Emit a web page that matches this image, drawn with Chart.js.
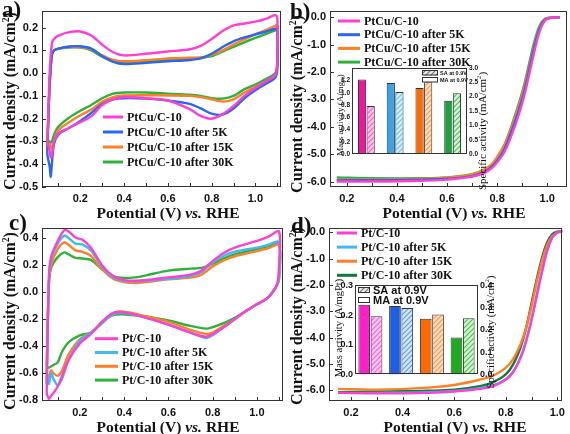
<!DOCTYPE html>
<html>
<head>
<meta charset="utf-8">
<script src="https://cdn.jsdelivr.net/npm/chart.js@4.4.1/dist/chart.umd.min.js"></script>
<style>
  html, body { margin: 0; padding: 0; background: #fff; }
  #fig { position: relative; width: 570px; height: 434px; overflow: hidden; }
  canvas { position: absolute; }
  .t { position: absolute; font-family: "Liberation Serif", serif; font-weight: bold; white-space: nowrap; color: #111;
       transform: translate(-50%, -50%); line-height: 1; }
  .rot { transform: translate(-50%, -50%) rotate(-90deg); }
  .reg { font-weight: normal; }
  sup, sub { font-size: 0.6em; line-height: 0; }
  .let { position: absolute; font-family: "Liberation Serif", serif; font-weight: bold; font-size: 23px; line-height: 1; color: #111; }
</style>
</head>
<body>
<div id="fig">
  <canvas id="chartA" width="285" height="217" style="left:0;top:0"></canvas>
  <canvas id="chartB" width="285" height="217" style="left:285px;top:0"></canvas>
  <canvas id="chartC" width="285" height="217" style="left:0;top:217px"></canvas>
  <canvas id="chartD" width="285" height="217" style="left:285px;top:217px"></canvas>
  <canvas id="insetB" width="162" height="100" style="left:331px;top:60px"></canvas>
  <canvas id="insetD" width="172" height="104" style="left:334px;top:278px"></canvas>

  <div class="let" style="left:2px;top:-2px">a)</div>
  <div class="let" style="left:290px;top:0">b)</div>
  <div class="let" style="left:9px;top:211px">c)</div>
  <div class="let" style="left:291px;top:214px">d)</div>

  <div class="t rot" style="left:10px;top:101px;font-size:16px">Current density (mA/cm<sup>2</sup>)</div>
  <div class="t" style="left:168px;top:213px;font-size:15.5px">Potential (V) <i>vs.</i> RHE</div>
  <div class="t rot" style="left:297px;top:104px;font-size:16px">Current density (mA/cm<sup>2</sup>)</div>
  <div class="t" style="left:454px;top:213px;font-size:15.5px">Potential (V) <i>vs.</i> RHE</div>
  <div class="t rot" style="left:10px;top:321px;font-size:16px">Current density (mA/cm<sup>2</sup>)</div>
  <div class="t" style="left:168px;top:427px;font-size:15.5px">Potential (V) <i>vs.</i> RHE</div>
  <div class="t rot" style="left:297px;top:316px;font-size:16px">Current density (mA/cm<sup>2</sup>)</div>
  <div class="t" style="left:455px;top:427px;font-size:15.5px">Potential (V) <i>vs.</i> RHE</div>

  <div class="t rot reg" style="left:340px;top:115px;font-size:9px">Mass activity (A/mg<sub>Pt</sub>)</div>
  <div class="t rot reg" style="left:482px;top:131px;font-size:11px">Specific activity (mA/cm<sup>2</sup>)</div>
  <div class="t rot reg" style="left:339px;top:328px;font-size:10.5px">Mass activity (A/mgPt)</div>
  <div class="t rot reg" style="left:491px;top:332px;font-size:10.5px">Specific activity (mA/cm<sup>2</sup>)</div>
</div>

<script>
// ---- panel a: PtCu/C-10 CV ----
const A_UP_X = [0.05, 0.06, 0.07, 0.08, 0.1, 0.15, 0.2, 0.25, 0.3, 0.35, 0.4, 0.5, 0.6, 0.7, 0.75, 0.8, 0.85, 0.9, 0.95, 1.0, 1.05, 1.09, 1.1];
const A_DOWN_X = [1.1, 1.09, 1.05, 1.0, 0.95, 0.9, 0.85, 0.8, 0.75, 0.7, 0.6, 0.5, 0.4, 0.35, 0.3, 0.25, 0.2, 0.15, 0.1, 0.08, 0.07, 0.065, 0.06, 0.05];
const A_PTCU_UP = [-0.3, 0.0, 0.13, 0.15, 0.165, 0.18, 0.183, 0.165, 0.125, 0.092, 0.078, 0.085, 0.095, 0.105, 0.12, 0.15, 0.185, 0.21, 0.218, 0.226, 0.24, 0.255, 0.245];
const A_PTCU_DOWN = [0.05, -0.01, -0.035, -0.065, -0.1, -0.145, -0.18, -0.2, -0.188, -0.158, -0.12, -0.11, -0.105, -0.115, -0.14, -0.19, -0.215, -0.24, -0.265, -0.3, -0.36, -0.37, -0.34, -0.31];
const A_5K_UP = [-0.3, -0.05, 0.08, 0.1, 0.108, 0.117, 0.118, 0.108, 0.075, 0.05, 0.04, 0.045, 0.052, 0.058, 0.065, 0.085, 0.115, 0.14, 0.157, 0.17, 0.183, 0.195, 0.195];
const A_5K_DOWN = [0.02, -0.02, -0.045, -0.075, -0.11, -0.155, -0.182, -0.178, -0.155, -0.135, -0.12, -0.112, -0.11, -0.115, -0.135, -0.175, -0.21, -0.24, -0.27, -0.31, -0.4, -0.455, -0.41, -0.36];
const A_15K_UP = [-0.32, -0.05, 0.08, 0.1, 0.108, 0.115, 0.115, 0.105, 0.078, 0.058, 0.052, 0.057, 0.065, 0.068, 0.068, 0.08, 0.1, 0.125, 0.148, 0.17, 0.19, 0.208, 0.21];
const A_15K_DOWN = [0.03, -0.01, -0.035, -0.06, -0.085, -0.115, -0.125, -0.115, -0.105, -0.1, -0.098, -0.097, -0.098, -0.105, -0.125, -0.16, -0.185, -0.215, -0.25, -0.3, -0.33, -0.33, -0.31, -0.33];
const A_30K_UP = [-0.3, -0.05, 0.08, 0.1, 0.108, 0.113, 0.112, 0.1, 0.072, 0.052, 0.048, 0.052, 0.058, 0.065, 0.068, 0.075, 0.095, 0.115, 0.135, 0.155, 0.172, 0.188, 0.19];
const A_30K_DOWN = [0.04, 0.0, -0.025, -0.05, -0.07, -0.1, -0.112, -0.11, -0.1, -0.095, -0.09, -0.085, -0.085, -0.09, -0.11, -0.14, -0.165, -0.195, -0.235, -0.27, -0.3, -0.305, -0.3, -0.31];
const A_Y_TICKS = [0.2, 0.1, 0.0, -0.1, -0.2, -0.3, -0.4, -0.5];

// ---- panel b: PtCu/C-10 ORR ----
const B_X = [0.16, 0.3, 0.5, 0.6, 0.7, 0.75, 0.78, 0.8, 0.83, 0.86, 0.89, 0.91, 0.93, 0.95, 0.97, 0.99, 1.01, 1.05];
const B_PTCU = [-6.0, -6.0, -5.97, -5.93, -5.82, -5.68, -5.5, -5.3, -4.9, -4.25, -3.45, -2.8, -2.0, -1.2, -0.5, -0.12, -0.02, 0.0];
const B_5K = [-5.96, -5.95, -5.93, -5.9, -5.8, -5.65, -5.45, -5.25, -4.8, -4.1, -3.3, -2.65, -1.85, -1.05, -0.42, -0.1, -0.02, 0.0];
const B_15K = [-5.93, -5.92, -5.9, -5.86, -5.74, -5.55, -5.35, -5.1, -4.65, -3.95, -3.15, -2.5, -1.75, -1.0, -0.4, -0.09, -0.02, 0.0];
const B_30K = [-5.85, -5.88, -5.88, -5.85, -5.73, -5.56, -5.38, -5.15, -4.65, -3.9, -3.05, -2.4, -1.6, -0.85, -0.3, -0.06, -0.01, 0.0];
const LSV_Y_TICKS = [0, -1, -2, -3, -4, -5, -6];

// ---- panel c: Pt/C-10 CV ----
const C_UP_X = [0.05, 0.06, 0.07, 0.1, 0.13, 0.15, 0.18, 0.21, 0.25, 0.3, 0.35, 0.4, 0.45, 0.5, 0.6, 0.7, 0.75, 0.8, 0.85, 0.9, 1.0, 1.05, 1.1];
const C_DOWN_X = [1.1, 1.09, 1.05, 1.0, 0.95, 0.9, 0.85, 0.8, 0.77, 0.7, 0.6, 0.5, 0.4, 0.35, 0.3, 0.25, 0.2, 0.15, 0.12, 0.1, 0.08, 0.07, 0.06, 0.05];
const C_PT_UP = [-0.75, 0.1, 0.26, 0.38, 0.46, 0.45, 0.405, 0.39, 0.33, 0.2, 0.12, 0.09, 0.085, 0.09, 0.11, 0.13, 0.16, 0.23, 0.29, 0.33, 0.38, 0.41, 0.45];
const C_PT_DOWN = [0.2, 0.05, -0.04, -0.09, -0.14, -0.2, -0.26, -0.31, -0.33, -0.3, -0.24, -0.19, -0.15, -0.155, -0.22, -0.31, -0.38, -0.5, -0.62, -0.7, -0.75, -0.77, -0.79, -0.75];
const C_5K_UP = [-0.68, 0.08, 0.24, 0.36, 0.42, 0.4, 0.36, 0.355, 0.31, 0.19, 0.11, 0.085, 0.08, 0.085, 0.1, 0.12, 0.15, 0.22, 0.27, 0.3, 0.33, 0.35, 0.37];
const C_5K_DOWN = [0.1, 0.05, -0.04, -0.09, -0.14, -0.2, -0.26, -0.32, -0.34, -0.3, -0.24, -0.19, -0.155, -0.165, -0.23, -0.3, -0.36, -0.5, -0.64, -0.69, -0.64, -0.6, -0.68, -0.62];
const C_15K_UP = [-0.6, 0.06, 0.2, 0.32, 0.37, 0.35, 0.31, 0.3, 0.27, 0.17, 0.1, 0.075, 0.068, 0.075, 0.095, 0.108, 0.13, 0.19, 0.235, 0.265, 0.305, 0.325, 0.35];
const C_15K_DOWN = [0.1, 0.05, -0.04, -0.09, -0.14, -0.2, -0.25, -0.3, -0.31, -0.28, -0.22, -0.18, -0.145, -0.155, -0.23, -0.3, -0.35, -0.46, -0.58, -0.62, -0.6, -0.58, -0.63, -0.6];
const C_30K_UP = [-0.55, 0.05, 0.18, 0.26, 0.295, 0.28, 0.255, 0.25, 0.24, 0.17, 0.12, 0.105, 0.11, 0.125, 0.16, 0.175, 0.18, 0.21, 0.25, 0.28, 0.32, 0.34, 0.36];
const C_30K_DOWN = [0.1, 0.05, -0.04, -0.09, -0.14, -0.19, -0.23, -0.26, -0.27, -0.25, -0.21, -0.18, -0.165, -0.17, -0.22, -0.3, -0.32, -0.37, -0.44, -0.52, -0.54, -0.55, -0.56, -0.55];
const C_Y_TICKS = [0.4, 0.2, 0.0, -0.2, -0.4, -0.6, -0.8];

// ---- panel d: Pt/C-10 ORR ----
const D_X = [0.15, 0.3, 0.5, 0.6, 0.7, 0.75, 0.8, 0.83, 0.86, 0.88, 0.9, 0.92, 0.94, 0.96, 0.98, 1.0, 1.02];
const D_PT = [-6.1, -6.12, -6.1, -6.05, -5.95, -5.85, -5.6, -5.3, -4.7, -4.1, -3.3, -2.4, -1.5, -0.7, -0.2, 0.0, 0.05];
const D_5K = [-6.1, -6.1, -6.08, -6.03, -5.92, -5.82, -5.58, -5.28, -4.7, -4.1, -3.35, -2.45, -1.55, -0.75, -0.22, -0.01, 0.04];
const D_15K = [-5.95, -5.98, -5.9, -5.8, -5.6, -5.45, -5.15, -4.8, -4.2, -3.6, -2.8, -1.9, -1.1, -0.5, -0.15, -0.02, 0.02];
const D_30K = [-6.08, -6.05, -6.02, -5.98, -5.85, -5.7, -5.4, -5.0, -4.3, -3.6, -2.7, -1.8, -1.0, -0.4, -0.08, 0.02, 0.05];

// shared potential ticks (labelled / unlabelled)
const X_MAJOR = [0.2, 0.4, 0.6, 0.8, 1.0];
const X_MINOR = [0.1, 0.3, 0.5, 0.7, 0.9, 1.1];

// ---- insets: mass / specific activity at 0.9 V ----
const INSET_CATS = ['fresh', 'after 5K', 'after 15K', 'after 30K'];
const B_MA = [1.22, 1.16, 1.08, 0.87];
const B_SA = [1.68, 2.16, 2.51, 2.12];
const B_MA_TICKS = [0, 0.2, 0.4, 0.6, 0.8, 1.0, 1.2];
const B_SA_TICKS = [0, 0.5, 1.0, 1.5, 2.0, 2.5, 3.0];
const D_MA = [0.235, 0.231, 0.188, 0.125];
const D_SA = [0.262, 0.299, 0.269, 0.253];
const D_MA_TICKS = [0, 0.1, 0.2, 0.3];
const D_SA_TICKS = [0, 0.1, 0.2, 0.3, 0.4];

const MAGENTA = '#ff3fd2', BLUE = '#2a66f0', ORANGE = '#ff7f27', GREEN = '#2fb23c';
const LBLUE = '#40b8f0', DGREEN = '#0f7a3a';

function loop(upX, upY, downX, downY) {
  const pts = upX.map((x, i) => ({x: x, y: upY[i]}))
    .concat(downX.map((x, i) => ({x: x, y: downY[i]})));
  pts.push(pts[0]);
  return pts;
}
function curve(xs, ys) {
  return xs.map((x, i) => ({x: x, y: ys[i]}));
}
function hatch(bg, fg) {
  const c = document.createElement('canvas');
  c.width = 5; c.height = 5;
  const g = c.getContext('2d');
  g.fillStyle = bg; g.fillRect(0, 0, 5, 5);
  g.strokeStyle = fg; g.lineWidth = 1.2;
  g.beginPath(); g.moveTo(-1, 6); g.lineTo(6, -1); g.moveTo(-1, 1); g.lineTo(1, -1); g.moveTo(4, 6); g.lineTo(6, 4); g.stroke();
  return g.createPattern(c, 'repeat');
}

// frame round the plot area plus inward tick marks
const frame = {
  id: 'frame',
  afterDatasetsDraw(chart, args, o) {
    const ctx = chart.ctx, a = chart.chartArea;
    ctx.save();
    ctx.strokeStyle = '#333';
    ctx.lineWidth = 1;
    ctx.strokeRect(Math.round(a.left) + 0.5, Math.round(a.top) + 0.5, Math.round(a.right - a.left) - 1, Math.round(a.bottom - a.top) - 1);
    if (o.ticks) {
      ctx.beginPath();
      chart.scales.x.ticks.forEach(t => {
        const p = Math.round(chart.scales.x.getPixelForValue(t.value)) + 0.5;
        ctx.moveTo(p, a.bottom); ctx.lineTo(p, a.bottom - o.ticks);
      });
      chart.scales.y.ticks.forEach(t => {
        const p = Math.round(chart.scales.y.getPixelForValue(t.value)) + 0.5;
        ctx.moveTo(a.left, p); ctx.lineTo(a.left + o.ticks, p);
      });
      ctx.stroke();
    }
    ctx.restore();
  }
};

// line legend drawn inside the plot
const lineLegend = {
  id: 'lineLegend',
  afterDraw(chart, args, o) {
    if (!o || o.x === undefined) return;
    const ctx = chart.ctx;
    ctx.save();
    ctx.font = 'bold 12px "Liberation Serif"';
    ctx.textBaseline = 'middle';
    chart.data.datasets.forEach((d, i) => {
      const y = o.y + i * o.dy;
      ctx.strokeStyle = d.borderColor;
      ctx.lineWidth = 3;
      ctx.beginPath(); ctx.moveTo(o.x, y); ctx.lineTo(o.x + o.len, y); ctx.stroke();
      ctx.fillStyle = '#111';
      ctx.fillText(d.label, o.x + o.len + 4, y + 0.5);
    });
    ctx.restore();
  }
};

// box legend for the bar insets
const boxLegend = {
  id: 'boxLegend',
  afterDraw(chart, args, o) {
    if (!o || !o.rows) return;
    const ctx = chart.ctx;
    ctx.save();
    ctx.font = o.font;
    ctx.textBaseline = 'middle';
    o.rows.forEach(r => {
      const d = chart.data.datasets[r.ds];
      ctx.fillStyle = d.legendFill;
      ctx.fillRect(o.x, r.y, o.w, o.h);
      ctx.strokeStyle = '#333'; ctx.lineWidth = 1;
      ctx.strokeRect(o.x + 0.5, r.y + 0.5, o.w - 1, o.h - 1);
      ctx.fillStyle = '#111';
      ctx.fillText(d.label, o.tx, r.y + o.h / 2 + 0.5);
    });
    ctx.restore();
  }
};

// white plot background for the insets
const plotBg = {
  id: 'plotBg',
  beforeDatasetsDraw(chart, args, o) {
    if (!o || !o.color) return;
    const a = chart.chartArea;
    chart.ctx.save();
    chart.ctx.fillStyle = o.color;
    chart.ctx.fillRect(a.left, a.top, a.right - a.left, a.bottom - a.top);
    chart.ctx.restore();
  }
};

Chart.register(frame, lineLegend, boxLegend, plotBg);

const TICK_FONT = {family: 'Liberation Sans', weight: 'bold', size: 11};

function lineDs(label, color, data, tension) {
  return {label: label, data: data, borderColor: color, backgroundColor: color, borderWidth: 2.4,
          pointRadius: 0, showLine: true, tension: tension, fill: false};
}

function mainOptions(c) {
  return {
    responsive: false,
    animation: false,
    events: [],
    layout: {padding: {top: c.top, right: c.right, left: 0, bottom: 0}},
    plugins: {legend: {display: false}, tooltip: {enabled: false}, frame: {ticks: 4}, lineLegend: c.legend},
    scales: {
      x: {
        type: 'linear', min: c.xmin, max: c.xmax,
        afterFit: s => { s.height = c.xh; },
        afterBuildTicks: s => { s.ticks = X_MAJOR.concat(X_MINOR).filter(v => v > c.xmin && v < c.xmax).sort((p, q) => p - q).map(v => ({value: v})); },
        grid: {display: false, drawTicks: false},
        border: {display: false},
        ticks: {padding: 5, font: TICK_FONT, color: '#111', autoSkip: false, maxRotation: 0,
                callback: v => X_MAJOR.includes(v) ? v.toFixed(1) : ''}
      },
      y: {
        type: 'linear', min: c.ymin, max: c.ymax,
        afterFit: s => { s.width = c.yw; },
        afterBuildTicks: s => { s.ticks = c.yticks.map(v => ({value: v})); },
        grid: {display: false, drawTicks: false},
        border: {display: false},
        ticks: {padding: 4, font: TICK_FONT, color: '#111', autoSkip: false, callback: v => v.toFixed(1)}
      }
    }
  };
}

new Chart(document.getElementById('chartA'), {
  type: 'scatter',
  data: {datasets: [
    lineDs('PtCu/C-10', MAGENTA, loop(A_UP_X, A_PTCU_UP, A_DOWN_X, A_PTCU_DOWN), 0.3),
    lineDs('PtCu/C-10 after 5K', BLUE, loop(A_UP_X, A_5K_UP, A_DOWN_X, A_5K_DOWN), 0.3),
    lineDs('PtCu/C-10 after 15K', ORANGE, loop(A_UP_X, A_15K_UP, A_DOWN_X, A_15K_DOWN), 0.3),
    lineDs('PtCu/C-10 after 30K', GREEN, loop(A_UP_X, A_30K_UP, A_DOWN_X, A_30K_DOWN), 0.3)
  ]},
  options: mainOptions({top: 11, right: 4, xh: 30, yw: 42, xmin: 0.025, xmax: 1.117, ymin: -0.5, ymax: 0.273,
                        yticks: A_Y_TICKS, legend: {x: 103, y: 117, dy: 15, len: 20}})
});

new Chart(document.getElementById('chartB'), {
  type: 'scatter',
  data: {datasets: [
    lineDs('PtCu/C-10', MAGENTA, curve(B_X, B_PTCU), 0.4),
    lineDs('PtCu/C-10 after 5K', BLUE, curve(B_X, B_5K), 0.4),
    lineDs('PtCu/C-10 after 15K', ORANGE, curve(B_X, B_15K), 0.4),
    lineDs('PtCu/C-10 after 30K', GREEN, curve(B_X, B_30K), 0.4)
  ]},
  options: mainOptions({top: 11, right: 3, xh: 30, yw: 45, xmin: 0.133, xmax: 1.079, ymin: -6.2, ymax: 0.234,
                        yticks: LSV_Y_TICKS, legend: {x: 53, y: 21, dy: 13.7, len: 22}})
});

new Chart(document.getElementById('chartC'), {
  type: 'scatter',
  data: {datasets: [
    lineDs('Pt/C-10', MAGENTA, loop(C_UP_X, C_PT_UP, C_DOWN_X, C_PT_DOWN), 0.3),
    lineDs('Pt/C-10 after 5K', LBLUE, loop(C_UP_X, C_5K_UP, C_DOWN_X, C_5K_DOWN), 0.3),
    lineDs('Pt/C-10 after 15K', ORANGE, loop(C_UP_X, C_15K_UP, C_DOWN_X, C_15K_DOWN), 0.3),
    lineDs('Pt/C-10 after 30K', GREEN, loop(C_UP_X, C_30K_UP, C_DOWN_X, C_30K_DOWN), 0.3)
  ]},
  options: mainOptions({top: 10, right: 2, xh: 33, yw: 42, xmin: 0.029, xmax: 1.118, ymin: -0.807, ymax: 0.479,
                        yticks: C_Y_TICKS, legend: {x: 95, y: 121.7, dy: 13.8, len: 23}})
});

new Chart(document.getElementById('chartD'), {
  type: 'scatter',
  data: {datasets: [
    lineDs('Pt/C-10', MAGENTA, curve(D_X, D_PT), 0.4),
    lineDs('Pt/C-10 after 5K', LBLUE, curve(D_X, D_5K), 0.4),
    lineDs('Pt/C-10 after 15K', ORANGE, curve(D_X, D_15K), 0.4),
    lineDs('Pt/C-10 after 30K', DGREEN, curve(D_X, D_30K), 0.4)
  ]},
  options: mainOptions({top: 9, right: 2, xh: 33, yw: 44, xmin: 0.115, xmax: 1.02, ymin: -6.41, ymax: 0.177,
                        yticks: LSV_Y_TICKS, legend: {x: 52, y: 16, dy: 14.1, len: 20}})
});

function insetOptions(c) {
  const f = {family: 'Liberation Sans', weight: 'bold', size: c.fs};
  return {
    responsive: false,
    animation: false,
    events: [],
    layout: {padding: {top: c.top, right: 0, left: 0, bottom: c.bottom}},
    plugins: {legend: {display: false}, tooltip: {enabled: false}, frame: {}, plotBg: {color: '#fff'}, boxLegend: c.legend},
    scales: {
      x: {display: false},
      y: {
        position: 'left', min: 0, max: c.ymax,
        afterFit: s => { s.width = c.yw; },
        afterBuildTicks: s => { s.ticks = c.yticks.map(v => ({value: v})); },
        grid: {display: false, drawTicks: false}, border: {display: false},
        ticks: {padding: 2, font: f, color: '#111', autoSkip: false, callback: v => v.toFixed(1)}
      },
      y2: {
        position: 'right', min: 0, max: c.y2max,
        afterFit: s => { s.width = c.y2w; },
        afterBuildTicks: s => { s.ticks = c.y2ticks.map(v => ({value: v})); },
        grid: {display: false, drawTicks: false}, border: {display: false},
        ticks: {padding: 2, font: f, color: '#111', autoSkip: false, callback: v => v.toFixed(1)}
      }
    }
  };
}

const B_SOLID = ['#f0169b', '#3aa3e8', '#ff6a00', '#1aa33a'];
const B_HATCH = [hatch('#ffc4ea', '#ff5cc0'), hatch('#d2efff', '#6cc3ee'), hatch('#ffe0c0', '#ff9a4a'), hatch('#d4f5d4', '#48c05a')];
new Chart(document.getElementById('insetB'), {
  type: 'bar',
  data: {labels: INSET_CATS, datasets: [
    {label: 'MA at 0.9V', data: B_MA, yAxisID: 'y', backgroundColor: B_SOLID, borderColor: '#333', borderWidth: 1,
     categoryPercentage: 0.6, barPercentage: 0.95, legendFill: '#fff'},
    {label: 'SA at 0.9V', data: B_SA, yAxisID: 'y2', backgroundColor: B_HATCH, borderColor: '#333', borderWidth: 1,
     categoryPercentage: 0.6, barPercentage: 0.95, legendFill: hatch('#e8e8e8', '#777')}
  ]},
  options: insetOptions({top: 8, bottom: 4, yw: 21, y2w: 26, fs: 6.5, ymax: 1.406, y2max: 3.0,
                         yticks: B_MA_TICKS, y2ticks: B_SA_TICKS,
                         legend: {x: 91, w: 16, h: 5.5, tx: 109, font: 'bold 5.5px "Liberation Sans"', rows: [{ds: 1, y: 10}, {ds: 0, y: 17}]}})
});

const D_SOLID = ['#ff1fc8', '#1f5fe6', '#ff6a00', '#1faa1f'];
const D_HATCH = [hatch('#ffc8ef', '#ff5fd6'), hatch('#cfe8ff', '#5f9ff0'), hatch('#ffdcc0', '#ff9a4a'), hatch('#d4f5d4', '#4cc04c')];
new Chart(document.getElementById('insetD'), {
  type: 'bar',
  data: {labels: INSET_CATS, datasets: [
    {label: 'MA at 0.9V', data: D_MA, yAxisID: 'y', backgroundColor: D_SOLID, borderColor: '#333', borderWidth: 1,
     categoryPercentage: 0.8, barPercentage: 0.95, legendFill: '#fff'},
    {label: 'SA at 0.9V', data: D_SA, yAxisID: 'y2', backgroundColor: D_HATCH, borderColor: '#333', borderWidth: 1,
     categoryPercentage: 0.8, barPercentage: 0.95, legendFill: hatch('#e8e8e8', '#777')}
  ]},
  options: insetOptions({top: 7, bottom: 4, yw: 21, y2w: 28, fs: 9, ymax: 0.3, y2max: 0.4,
                         yticks: D_MA_TICKS, y2ticks: D_SA_TICKS,
                         legend: {x: 24, w: 12, h: 6, tx: 39, font: 'bold 11px "Liberation Sans"', rows: [{ds: 1, y: 9}, {ds: 0, y: 19}]}})
});
</script>
</body>
</html>
